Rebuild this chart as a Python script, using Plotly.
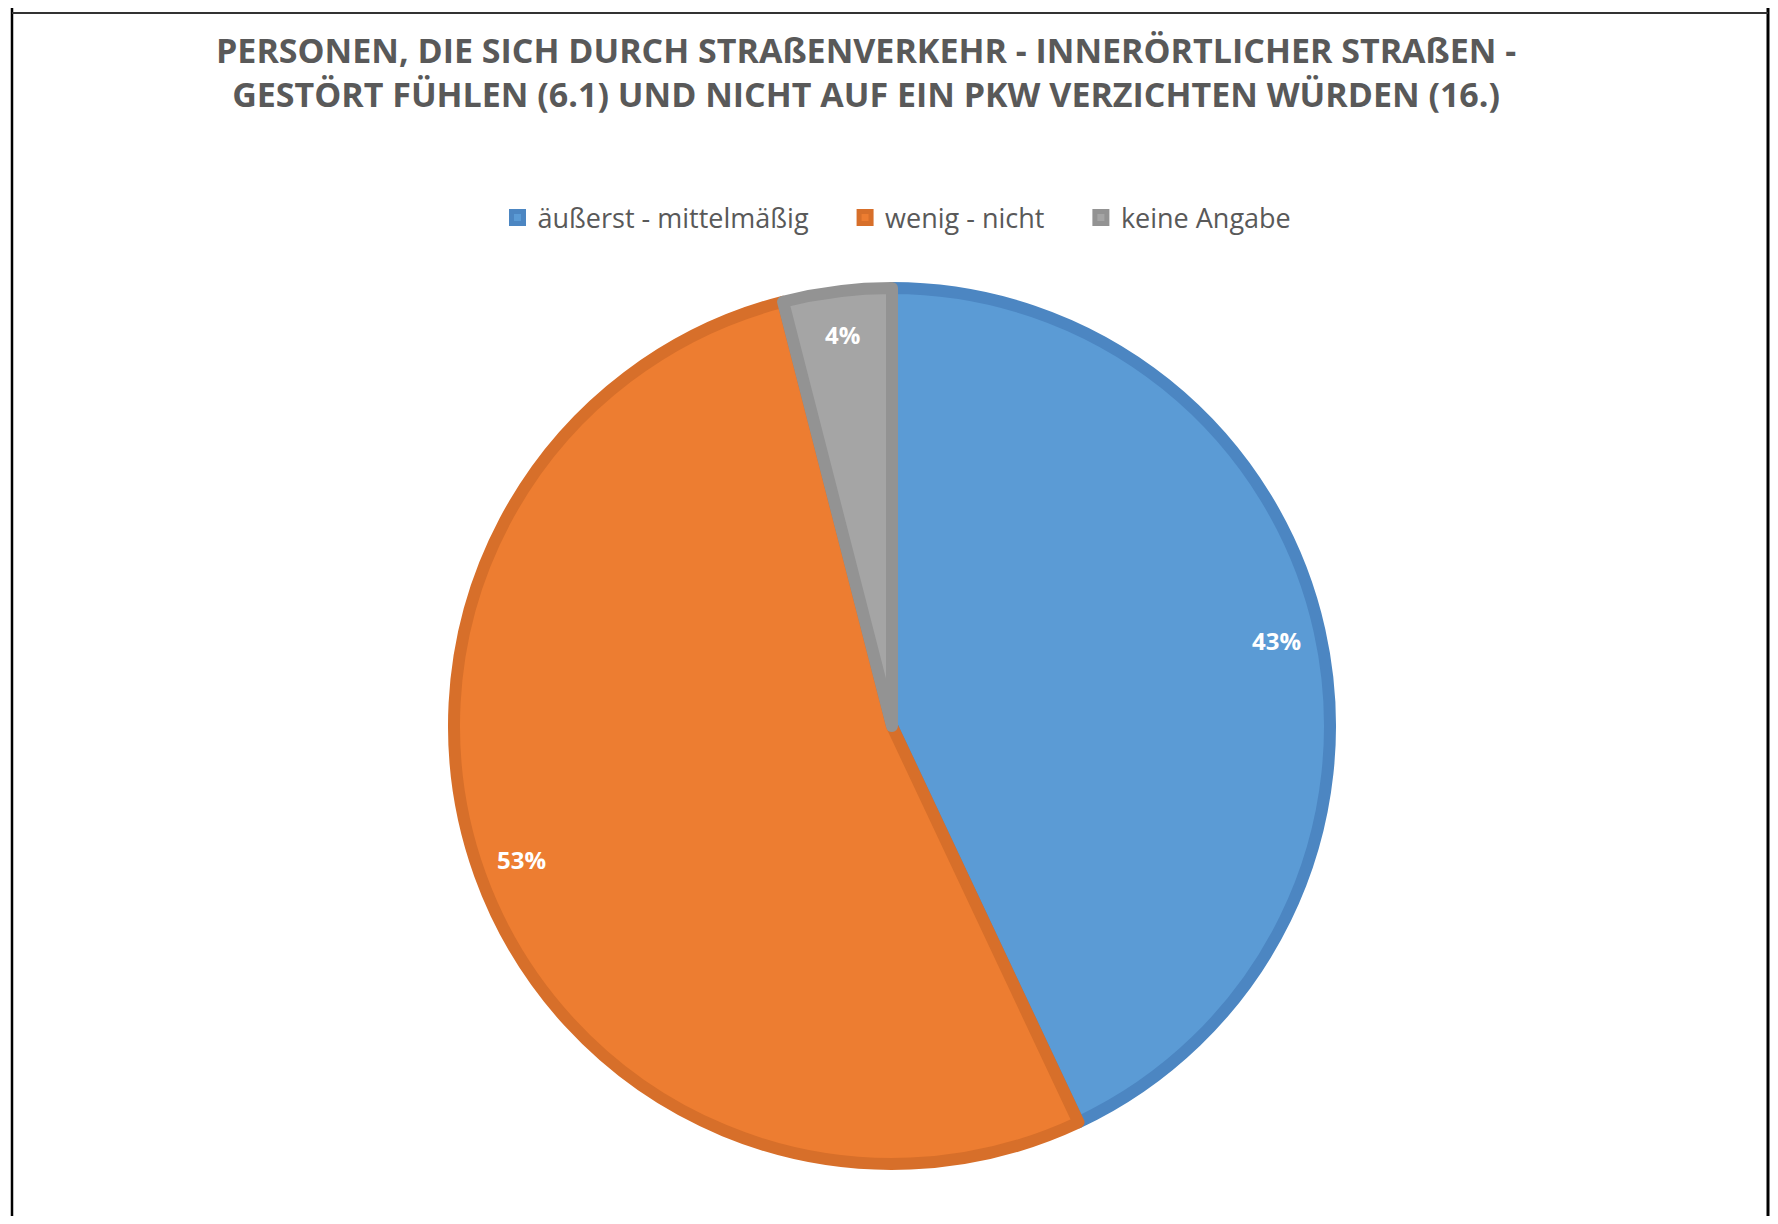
import math
import plotly.graph_objects as go

categories = ["äußerst - mittelmäßig", "wenig - nicht", "keine Angabe"]
values = [43, 53, 4]
fill_colors = ["#5B9BD5", "#ED7D31", "#A5A5A5"]
edge_colors = ["#4C86C2", "#D76F2A", "#939393"]

# page has an 8px body margin, so the figure is sized to fit inside the window
W, H = 1762, 1208
cx_px, cy_px, R_px = 884, 718, 438

dom_x = [(cx_px - R_px) / W, (cx_px + R_px) / W]
dom_y = [1 - (cy_px + R_px) / H, 1 - (cy_px - R_px) / H]

# legend labels with a little trailing room between entries
legend_labels = [c + "\u2003\u2009" if i < len(categories) - 1 else c
                 for i, c in enumerate(categories)]

fig = go.Figure()
fig.add_trace(go.Pie(
    labels=legend_labels,
    values=values,
    sort=False,
    direction="clockwise",
    rotation=0,
    marker=dict(colors=fill_colors, line=dict(color=edge_colors, width=12)),
    textinfo="none",
    hoverinfo="label+percent",
    domain=dict(x=dom_x, y=dom_y),
))

# percentage labels placed near the outer rim (as in the reference)
total = sum(values)
cum = 0
annotations = []
for v in values:
    mid = (cum + v / 2) / total
    cum += v
    ang = math.radians(90 - 360 * mid)
    x = cx_px + 0.9 * R_px * math.cos(ang)
    y = cy_px - 0.9 * R_px * math.sin(ang)
    annotations.append(dict(
        x=x / W, y=1 - y / H, xref="paper", yref="paper",
        xanchor="center", yanchor="middle",
        text=f"<b>{round(100 * v / total)}%</b>", showarrow=False,
        font=dict(family="Open Sans", size=24, color="white"),
    ))

annotations.append(dict(
    x=858 / W, y=1 - 64 / H, xref="paper", yref="paper", xanchor="center", yanchor="middle",
    text="<b>PERSONEN, DIE SICH DURCH STRAßENVERKEHR - INNERÖRTLICHER STRAßEN -<br>GESTÖRT FÜHLEN (6.1) UND NICHT AUF EIN PKW VERZICHTEN WÜRDEN (16.)</b>",
    showarrow=False, align="center",
    font=dict(family="Open Sans", size=34, color="#595959"),
))

fig.update_layout(
    width=W, height=H,
    margin=dict(l=0, r=0, t=0, b=0),
    paper_bgcolor="white",
    showlegend=True,
    legend=dict(
        orientation="h", x=889 / W, xanchor="center", y=1 - 210 / H, yanchor="middle",
        font=dict(family="Open Sans", size=27, color="#595959"),
        itemwidth=30, traceorder="normal",
    ),
    annotations=annotations,
    shapes=[
        dict(type="line", xref="paper", yref="paper", x0=4 / W, x1=4 / W, y0=0, y1=1,
             line=dict(color="black", width=2.5)),
        dict(type="line", xref="paper", yref="paper", x0=1760 / W, x1=1760 / W, y0=0, y1=1,
             line=dict(color="black", width=3)),
        dict(type="line", xref="paper", yref="paper", x0=4 / W, x1=1760 / W,
             y0=1 - 5 / H, y1=1 - 5 / H, line=dict(color="#333333", width=2)),
    ],
)

fig.write_html("out.html")
